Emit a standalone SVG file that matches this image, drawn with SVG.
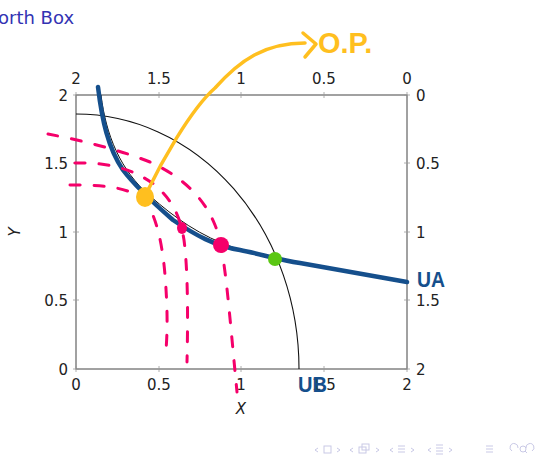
<svg xmlns="http://www.w3.org/2000/svg" width="543" height="457" viewBox="0 0 543 457">
<style>
.tick{stroke:#999;stroke-width:0.8}
.lbl{font-family:"DejaVu Sans","Liberation Sans",sans-serif;font-size:15px;fill:#222}
.pink{fill:none;stroke:#f5006a;stroke-width:3;stroke-linecap:round;stroke-dasharray:10 14}
.nav{fill:none;stroke:#c9c9e6;stroke-width:1}
</style>
<rect width="543" height="457" fill="#fff"/>
<text x="-2" y="24" font-family="DejaVu Sans,sans-serif" font-size="18" fill="#3333b3">orth Box</text>

<g id="axes">
  <rect x="76" y="95" width="331" height="274" fill="none" stroke="#444" stroke-width="1"/>
  <g class="tick">
    <path d="M76,366v6M159,366v6M241,366v6M324,366v6M407,366v6"/>
    <path d="M76,92v6M159,92v6M241,92v6M324,92v6M407,92v6"/>
    <path d="M73,95h6M73,163h6M73,232h6M73,300h6M73,369h6"/>
    <path d="M404,95h6M404,163h6M404,232h6M404,300h6M404,369h6"/>
  </g>
  <g class="lbl" text-anchor="middle">
    <text x="76" y="390">0</text><text x="159" y="390">0.5</text><text x="241" y="390">1</text><text x="324" y="390">1.5</text><text x="407" y="390">2</text>
    <text x="76" y="84">2</text><text x="159" y="84">1.5</text><text x="241" y="84">1</text><text x="324" y="84">0.5</text><text x="407" y="84">0</text>
  </g>
  <g class="lbl" text-anchor="end">
    <text x="68" y="101">2</text><text x="68" y="169">1.5</text><text x="68" y="238">1</text><text x="68" y="306">0.5</text><text x="68" y="375">0</text>
  </g>
  <g class="lbl">
    <text x="416" y="101">0</text><text x="416" y="169">0.5</text><text x="416" y="238">1</text><text x="416" y="306">1.5</text><text x="416" y="375">2</text>
  </g>
  <text class="lbl" x="241" y="414" text-anchor="middle" font-style="italic" font-size="16">X</text>
  <text class="lbl" x="0" y="0" text-anchor="middle" font-style="italic" font-size="16" transform="translate(20,232) rotate(-90)">Y</text>
</g>

<g id="connectors">
  <path id="ppf" d="M76,114 A223,255 0 0 1 299,369" fill="none" stroke="#111" stroke-width="1.1"/>
  <path id="ic-thin" d="M101,95 C106,135 120,170 150,196 C175,218 200,236 235,248" fill="none" stroke="#111" stroke-width="1"/>
  <path id="ua" d="M98,87 C102,120 108,148 123,170 C135,186 150,200 173,220 C195,235 215,246 240,250 C260,254 280,260 300,263 C340,270 375,276 407,282" fill="none" stroke="#154f8c" stroke-width="4.5" stroke-linecap="round"/>
  <path class="pink" d="M48,134 C80,140 120,150 150,162 C185,178 205,200 215,225 C225,250 228,300 237,392"/>
  <path class="pink" d="M75,163 C110,162 135,170 155,185 C172,200 180,215 184,240 C188,270 188,320 187,362"/>
  <path class="pink" d="M70,185 C110,185 135,188 148,205 C158,222 163,250 165,275 C167,300 168,325 166,350"/>
  <path id="op-arrow" d="M147,192 C160,165 190,110 215,88 C240,60 265,43 305,43" fill="none" stroke="#ffbf1f" stroke-width="3.5" stroke-linecap="round"/>
  <path d="M303,33 L316,44 L305,57" fill="none" stroke="#ffbf1f" stroke-width="3.5" stroke-linecap="round" stroke-linejoin="round"/>
</g>

<g id="yellow-point"><ellipse cx="145" cy="197" rx="9" ry="10" fill="#ffbf1f"/></g>
<g id="pink-point-1"><ellipse cx="182" cy="228" rx="5" ry="6" fill="#f5006a"/></g>
<g id="pink-point-2"><ellipse cx="221" cy="245" rx="8" ry="8" fill="#f5006a"/></g>
<g id="green-point"><circle cx="275" cy="259" r="7" fill="#5bc714"/></g>

<g id="labels">
  <text x="318" y="53" font-family="Liberation Sans,sans-serif" font-weight="bold" font-size="29" fill="#ffbf1f">O.P.</text>
  <text x="417" y="287" font-family="Liberation Sans,sans-serif" font-weight="bold" font-size="22" fill="#154f8c" textLength="28" lengthAdjust="spacingAndGlyphs">UA</text>
  <text x="298" y="392" font-family="Liberation Sans,sans-serif" font-weight="bold" font-size="22" fill="#154f8c" textLength="29" lengthAdjust="spacingAndGlyphs">UB</text>
</g>

<g id="nav" class="nav">
  <path d="M318,448 l-3,2 l3,2"/><rect x="324" y="446" width="7" height="7"/><path d="M337,448 l3,2 l-3,2"/>
  <path d="M353,448 l-3,2 l3,2"/><rect x="359" y="447" width="7" height="6"/><rect x="362" y="444" width="7" height="6"/><path d="M376,448 l3,2 l-3,2"/>
  <path d="M393,448 l-3,2 l3,2"/><path d="M398,446h7M398,449h7M398,452h7"/><path d="M411,448 l3,2 l-3,2"/>
  <path d="M431,448 l-3,2 l3,2"/><path d="M436,445h7M436,448h7M436,451h7M436,454h7"/><path d="M449,448 l3,2 l-3,2"/>
  <path d="M486,446h7M486,449h7M486,452h7"/>
  <path d="M512,451 a4,4 0 1 1 6,-3"/><circle cx="523" cy="449" r="3"/><path d="M525,451l2,2"/><path d="M532,451 a4,4 0 1 0 -6,-3"/>
</g>
</svg>
